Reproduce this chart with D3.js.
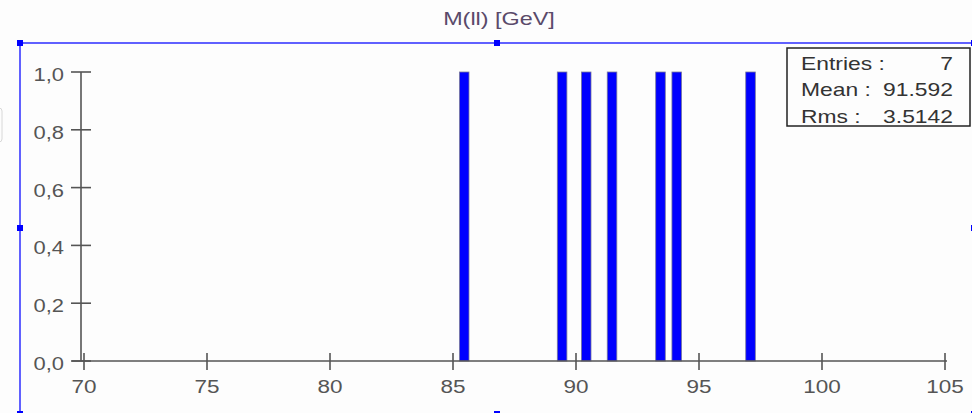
<!DOCTYPE html>
<html><head><meta charset="utf-8">
<script src="https://cdn.jsdelivr.net/npm/d3@7"></script>
<style>html,body{margin:0;padding:0;background:#fdfdfd;}svg{display:block;}</style>
</head><body>
<svg id="c" width="972" height="413"></svg>
<script>
// data
const binLows = [85.26, 89.24, 90.22, 91.27, 93.24, 93.90, 96.90];
const counts  = [1, 1, 1, 1, 1, 1, 1];
const binWidth = 0.39;
const xTicks = [70, 75, 80, 85, 90, 95, 100, 105];
const yTicks = [0, 0.2, 0.4, 0.6, 0.8, 1.0];
const title = "M(ll) [GeV]";
const statLabels = ["Entries :", "Mean :", "Rms :"];
const statValues = ["7", "91.592", "3.5142"];

const svg = d3.select("#c");
const x = d3.scaleLinear().domain([70, 105]).range([84, 945]);
const y = d3.scaleLinear().domain([0, 1]).range([361, 72]);
const fmt = d3.format(".1f");
const axisCol = "#555";
const font = "Liberation Sans, Arial, sans-serif";

function stext(g, tx, ty, str, anchor, size, col, sx) {
  return g.append("text").attr("transform", `translate(${tx},${ty}) scale(${sx},1)`)
    .attr("text-anchor", anchor).attr("font-family", font).attr("font-size", size)
    .attr("fill", col).text(str);
}

// light artifact at left
svg.append("rect").attr("x", -4).attr("y", 108).attr("width", 6).attr("height", 34)
  .attr("rx", 3).attr("fill", "none").attr("stroke", "#d8d8d8").attr("stroke-width", 1);

// frame
const fr = {x0: 20, y0: 43, x1: 974, y1: 414};
svg.append("rect").attr("x", fr.x0).attr("y", fr.y0).attr("width", fr.x1 - fr.x0).attr("height", fr.y1 - fr.y0)
  .attr("fill", "none").attr("stroke", "#3a3aff").attr("stroke-width", 1.6);
const hx = [fr.x0, 497, fr.x1];
const hy = [fr.y0, 228, fr.y1];
const handles = [];
hx.forEach((a, i) => hy.forEach((b, j) => { if (!(i === 1 && j === 1)) handles.push([a, b]); }));
svg.selectAll("rect.h").data(handles).join("rect").attr("class", "h")
  .attr("x", d => d[0] - 3).attr("y", d => d[1] - 3).attr("width", 6).attr("height", 6).attr("fill", "#0000ff");

// title
stext(svg, 499, 25, title, "middle", 18, "#5a4a6a", 1.3);

// bars
svg.selectAll("rect.bar").data(binLows).join("rect").attr("class", "bar")
  .attr("x", d => x(d)).attr("width", d => x(d + binWidth) - x(d))
  .attr("y", (d, i) => y(counts[i])).attr("height", (d, i) => y(0) - y(counts[i]))
  .attr("fill", "#0000ff").attr("stroke", "#7a7a9a").attr("stroke-width", 0.8);

// axes
const ax = svg.append("g").attr("stroke", axisCol).attr("stroke-width", 1.6);
ax.append("line").attr("x1", 72).attr("x2", x(105) + 2).attr("y1", y(0)).attr("y2", y(0));
ax.append("line").attr("x1", 81).attr("x2", 81).attr("y1", y(1)).attr("y2", y(0));
ax.selectAll("line.yt").data(yTicks).join("line").attr("class", "yt")
  .attr("x1", 71).attr("x2", 91).attr("y1", d => y(d)).attr("y2", d => y(d));
ax.selectAll("line.xt").data(xTicks).join("line").attr("class", "xt")
  .attr("x1", d => x(d)).attr("x2", d => x(d)).attr("y1", y(0) - 8).attr("y2", y(0) + 9);

yTicks.forEach(t => stext(svg, 64, y(t) + 9, fmt(t).replace(".", ","), "end", 18, "#555", 1.22));
xTicks.forEach(t => stext(svg, x(t), 393, String(t), "middle", 18, "#555", 1.25));

// stats box
svg.append("rect").attr("x", 787).attr("y", 48).attr("width", 183).attr("height", 78)
  .attr("fill", "#fdfdfd").attr("stroke", "#222").attr("stroke-width", 1.5);
statLabels.forEach((s, i) => {
  stext(svg, 801, 70 + i * 26.3, s, "start", 18, "#333", 1.27);
  stext(svg, 953, 70 + i * 26.3, statValues[i], "end", 18, "#333", 1.27);
});
</script>
</body></html>
